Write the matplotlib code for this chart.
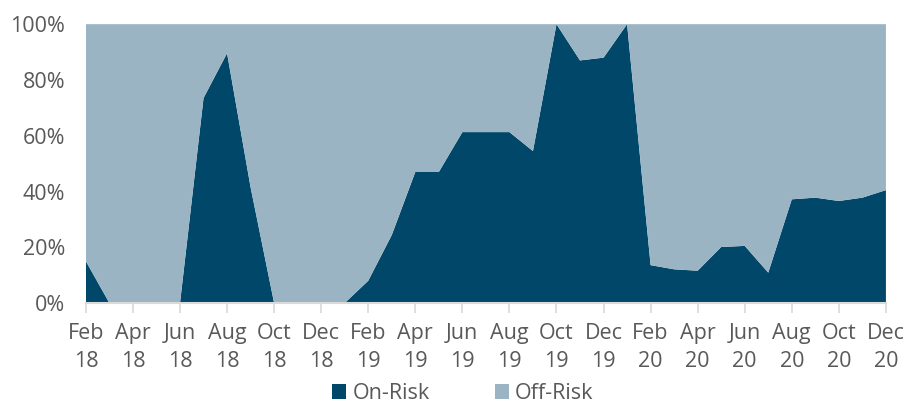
import matplotlib.pyplot as plt
import numpy as np
from matplotlib.ticker import FuncFormatter

plt.rcParams['font.family'] = ['Open Sans', 'DejaVu Sans']

months = ['Feb 18', 'Mar 18', 'Apr 18', 'May 18', 'Jun 18', 'Jul 18', 'Aug 18', 'Sep 18',
          'Oct 18', 'Nov 18', 'Dec 18', 'Jan 19', 'Feb 19', 'Mar 19', 'Apr 19', 'May 19',
          'Jun 19', 'Jul 19', 'Aug 19', 'Sep 19', 'Oct 19', 'Nov 19', 'Dec 19', 'Jan 20',
          'Feb 20', 'Mar 20', 'Apr 20', 'May 20', 'Jun 20', 'Jul 20', 'Aug 20', 'Sep 20',
          'Oct 20', 'Nov 20', 'Dec 20']
on_risk = [15, 0, 0, 0, 0, 73.5, 89.6, 41.5, 0, 0, 0, 0, 8, 24.4, 47, 47,
           61.3, 61.3, 61.3, 54.5, 100, 87, 88, 100, 13.6, 12.1, 11.6, 20.1, 20.5, 10.9,
           37.2, 37.8, 36.6, 37.8, 40.5]
off_risk = [100 - v for v in on_risk]

dark = '#00476A'
light = '#9AB4C4'
grey = '#595959'
fs = 15.5

x = np.arange(len(months))

fig = plt.figure(figsize=(9.04, 4.03), dpi=100)
ax = fig.add_axes([0.095, 0.248, 0.885, 0.692])
ax.stackplot(x, on_risk, off_risk, colors=[dark, light], labels=['On-Risk', 'Off-Risk'], linewidth=0)

ax.set_xlim(0, len(months) - 1)
ax.set_ylim(0, 100)
ax.set_yticks(range(0, 101, 20))
ax.yaxis.set_major_formatter(FuncFormatter(lambda v, p: f'{int(v)}%'))

tick_pos = x[::2]
ax.set_xticks(tick_pos)
ax.set_xticklabels([months[i].replace(' ', '\n') for i in tick_pos])

for s in ['top', 'right', 'left']:
    ax.spines[s].set_visible(False)
ax.spines['bottom'].set_color('#D9D9D9')
ax.spines['bottom'].set_linewidth(1.5)

ax.tick_params(axis='y', length=0, labelsize=fs, labelcolor=grey, pad=15)
ax.tick_params(axis='x', length=7, width=1.2, color='#D9D9D9', labelsize=fs,
               labelcolor=grey, pad=7)
for lbl in ax.get_xticklabels():
    lbl.set_linespacing(1.45)

leg = fig.legend(loc='center', bbox_to_anchor=(0.512, 0.024), ncol=2, frameon=False,
                 fontsize=fs, handlelength=0.65, handleheight=0.7, handletextpad=0.3,
                 columnspacing=3.0, borderpad=0)
for t in leg.get_texts():
    t.set_color(grey)

fig.savefig('out.png', dpi=100)
